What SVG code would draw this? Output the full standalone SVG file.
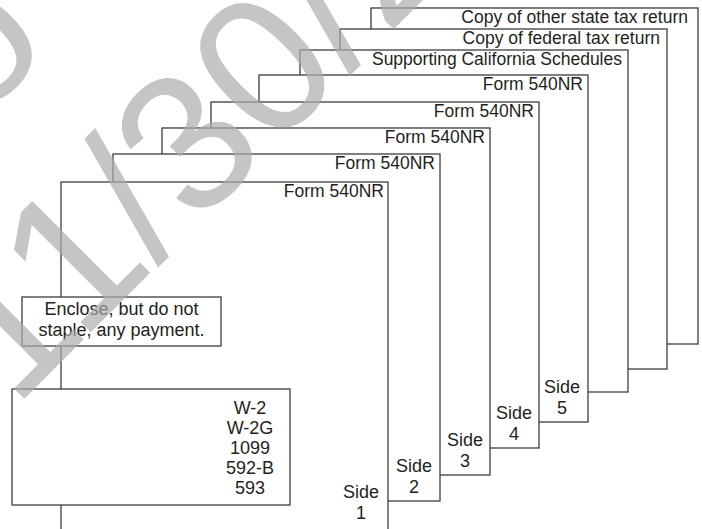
<svg xmlns="http://www.w3.org/2000/svg" width="702" height="529" viewBox="0 0 702 529">
<style>
.pg{fill:#fff;stroke:#3c3c3c;stroke-width:1.3}
.t{font-family:"Liberation Sans",Arial,sans-serif;fill:#231f20}
.h{font-size:17.5px;text-anchor:end}
.s{font-size:18px;text-anchor:middle}
.wm{font-family:"Liberation Sans",Arial,sans-serif;font-size:195px;fill:#acacac;opacity:.69}
</style>
<rect width="702" height="529" fill="#fff"/>
<g id="page-other-state">
<rect class="pg" x="371" y="8" width="327" height="336"/>
<text class="t h" x="688" y="23">Copy of other state tax return</text>
</g>
<g id="page-federal">
<rect class="pg" x="340" y="29" width="327" height="340"/>
<text class="t h" x="660" y="44">Copy of federal tax return</text>
</g>
<g id="page-schedules">
<rect class="pg" x="300" y="50" width="328" height="342"/>
<text class="t h" x="622" y="65">Supporting California Schedules</text>
</g>
<g id="page-side5">
<rect class="pg" x="259" y="75" width="329" height="347"/>
<text class="t h" x="583" y="90">Form 540NR</text>
<text class="t s" x="562" y="393">Side</text>
<text class="t s" x="562" y="414">5</text>
</g>
<g id="page-side4">
<rect class="pg" x="211" y="102" width="328" height="346"/>
<text class="t h" x="534" y="117">Form 540NR</text>
<text class="t s" x="514" y="419">Side</text>
<text class="t s" x="514" y="440">4</text>
</g>
<g id="page-side3">
<rect class="pg" x="162" y="128" width="328" height="347"/>
<text class="t h" x="485" y="143">Form 540NR</text>
<text class="t s" x="465" y="446">Side</text>
<text class="t s" x="465" y="467">3</text>
</g>
<g id="page-side2">
<rect class="pg" x="113" y="154" width="327" height="347"/>
<text class="t h" x="435" y="169">Form 540NR</text>
<text class="t s" x="414" y="472">Side</text>
<text class="t s" x="414" y="493">2</text>
</g>
<g id="page-side1">
<rect class="pg" x="61" y="182" width="327" height="360"/>
<text class="t h" x="384" y="197">Form 540NR</text>
<text class="t s" x="361" y="498">Side</text>
<text class="t s" x="361" y="519">1</text>
</g>
<g id="payment-note">
<rect class="pg" x="22" y="297" width="199" height="49"/>
<text class="t s" x="121.5" y="315">Enclose, but do not</text>
<text class="t s" x="121.5" y="336">staple, any payment.</text>
</g>
<g id="withholding-forms">
<rect class="pg" x="12" y="389" width="278" height="116"/>
<text class="t s" x="250" y="414">W-2</text>
<text class="t s" x="250" y="434">W-2G</text>
<text class="t s" x="250" y="454">1099</text>
<text class="t s" x="250" y="474">592-B</text>
<text class="t s" x="250" y="494">593</text>
</g>
<g id="watermark">
<text class="wm" transform="translate(13.7,409.3) rotate(-45)">11/30/2</text>
<text class="wm" transform="translate(-22.7,123.9) rotate(-45)">o</text>
</g>
</svg>
